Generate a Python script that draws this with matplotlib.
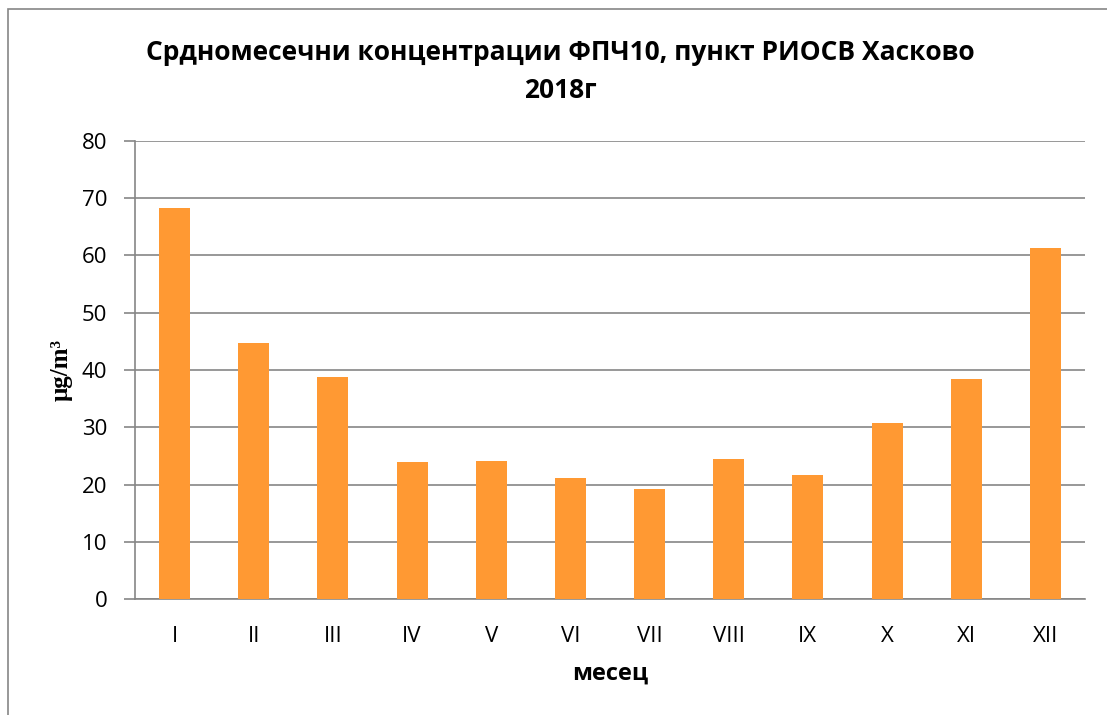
import matplotlib.pyplot as plt
from matplotlib.patches import Rectangle

# Monthly mean PM10, RIOSV Haskovo, 2018
months = ['I', 'II', 'III', 'IV', 'V', 'VI', 'VII', 'VIII', 'IX', 'X', 'XI', 'XII']
pm10 = [68.3, 44.7, 38.8, 23.9, 24.1, 21.2, 19.2, 24.5, 21.7, 30.8, 38.4, 61.2]
yticks = [0, 10, 20, 30, 40, 50, 60, 70, 80]

plt.rcParams['font.family'] = ['Open Sans', 'DejaVu Sans']

fig = plt.figure(figsize=(11.07, 7.15), dpi=100)
ax = fig.add_axes([135 / 1107, 1 - 599.3 / 715, 950 / 1107, 458.6 / 715])

# outer chart border (Excel style)
fig.patches.append(Rectangle((8 / 1107, -0.01), 1.2, (715 - 8.5) / 715 + 0.01,
                             transform=fig.transFigure, fill=False,
                             edgecolor='#868686', linewidth=1.2))

x = list(range(len(months)))
ax.bar(x, pm10, width=0.39, color='#FF9933', zorder=3)

ax.set_xlim(-0.5, len(months) - 0.5)
ax.set_ylim(0, 80)
ax.set_yticks(yticks)
ax.set_xticks(x)
ax.set_xticklabels(months)
ax.tick_params(axis='y', length=8, width=1.2, color='#868686', labelsize=16, pad=12)
ax.tick_params(axis='x', length=0, labelsize=16, pad=19)
ax.yaxis.grid(True, color='#868686', linewidth=1.2, zorder=0)

for side in ['top', 'right']:
    ax.spines[side].set_visible(False)
ax.spines['left'].set_color('#868686')
ax.spines['left'].set_linewidth(1.2)
ax.spines['bottom'].set_color('#868686')
ax.spines['bottom'].set_linewidth(1.2)

fig.text(560 / 1107, 1 - 52 / 715,
         'Срдномесечни концентрации ФПЧ10, пункт РИОСВ Хасково',
         ha='center', va='center', fontsize=19, fontweight='bold')
fig.text(560 / 1107, 1 - 90 / 715, '2018г',
         ha='center', va='center', fontsize=19, fontweight='bold')

fig.text(61 / 1107, 1 - 370 / 715, 'μg/m³', rotation=90, ha='center', va='center',
         fontsize=18, fontweight='bold', family=['Liberation Serif', 'DejaVu Serif'])
fig.text(610 / 1107, 1 - 674 / 715, 'месец', ha='center', va='center',
         fontsize=17, fontweight='bold')

plt.savefig('out.png', dpi=100)
